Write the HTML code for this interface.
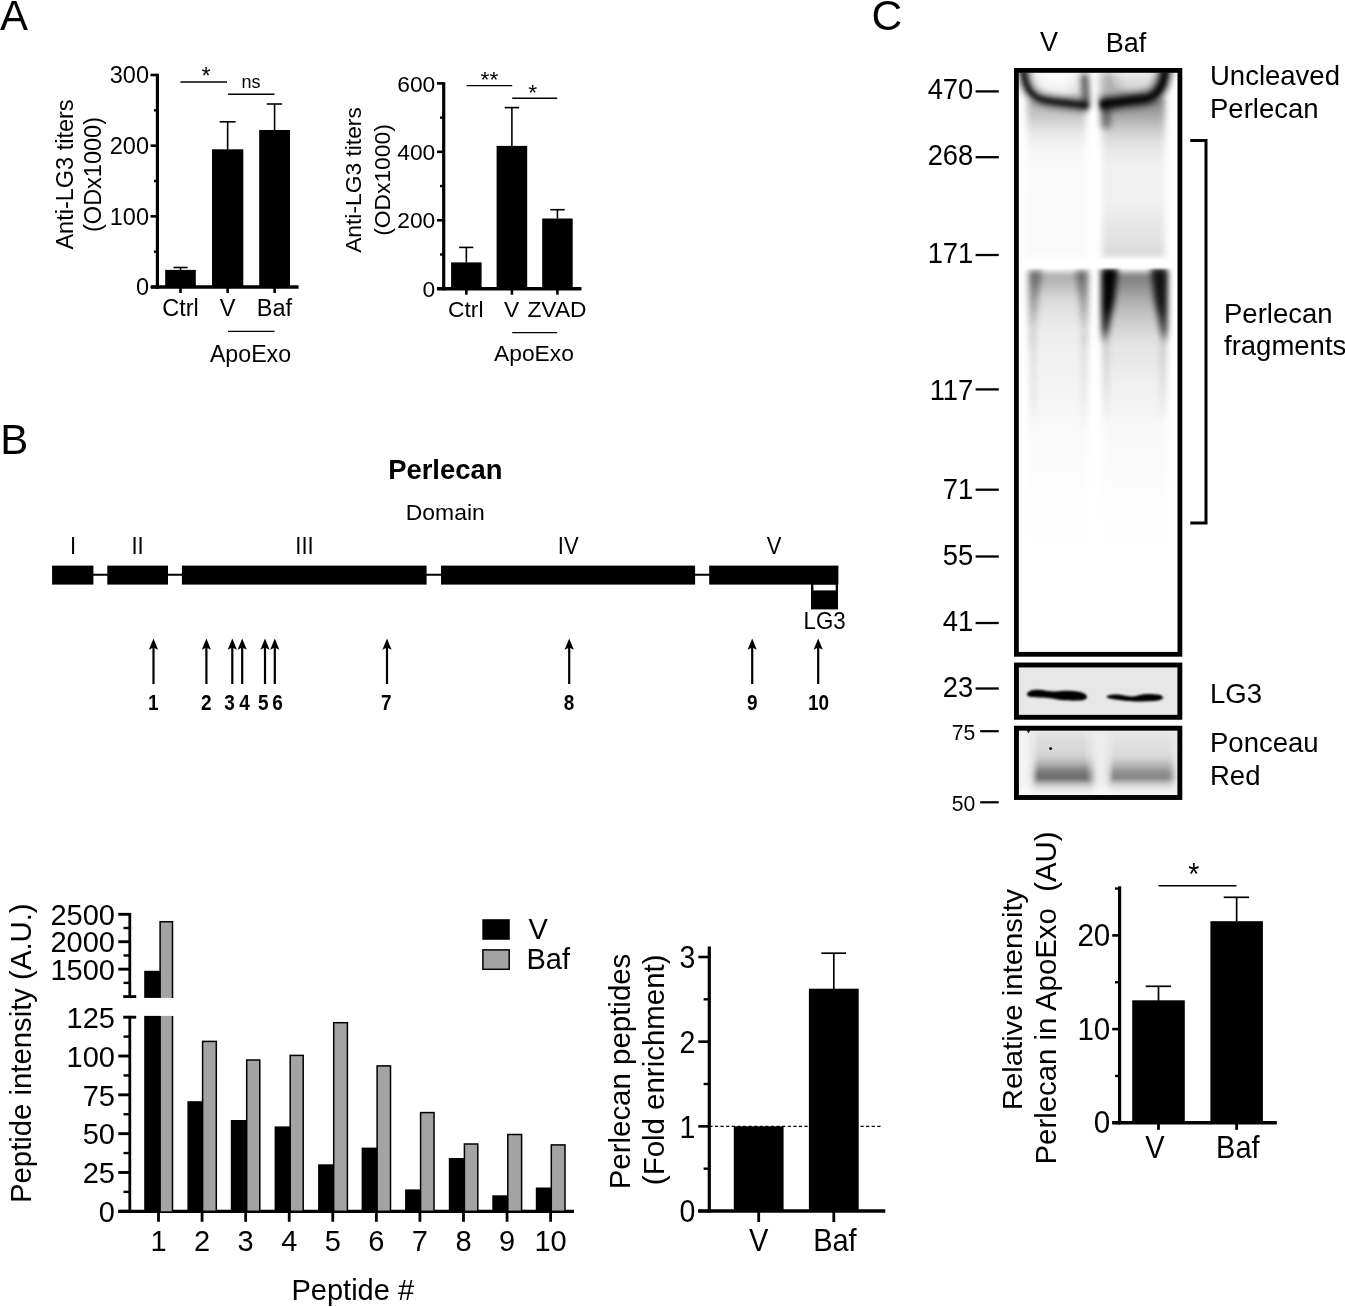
<!DOCTYPE html>
<html lang="en"><head><meta charset="utf-8"><title>Figure</title>
<style>html,body{margin:0;padding:0;background:#fff;}svg{display:block;}text{font-family:'Liberation Sans', Arial, sans-serif;fill:#000;}</style>
</head><body>
<svg width="1345" height="1307" viewBox="0 0 1345 1307">
<rect x="0" y="0" width="1345" height="1307" fill="#fff"/>
<defs>
<filter id="b1" x="-20%" y="-50%" width="140%" height="200%"><feGaussianBlur stdDeviation="1"/></filter>
<filter id="b2" x="-20%" y="-20%" width="140%" height="140%"><feGaussianBlur stdDeviation="2"/></filter>
<filter id="b3" x="-30%" y="-30%" width="160%" height="160%"><feGaussianBlur stdDeviation="3"/></filter>
<filter id="b4" x="-30%" y="-30%" width="160%" height="160%"><feGaussianBlur stdDeviation="4.5"/></filter>
<clipPath id="cpMain"><rect x="1018.5" y="72.5" width="159" height="580"/></clipPath>
<clipPath id="cpLG3"><rect x="1018.5" y="667" width="159" height="48.5"/></clipPath>
<clipPath id="cpPon"><rect x="1018.5" y="730" width="159" height="65.5"/></clipPath>
<linearGradient id="gSmearV" x1="0" y1="0" x2="0" y2="1">
 <stop offset="0" stop-color="#000" stop-opacity="0.42"/>
 <stop offset="0.35" stop-color="#000" stop-opacity="0.22"/>
 <stop offset="0.7" stop-color="#000" stop-opacity="0.06"/>
 <stop offset="1" stop-color="#000" stop-opacity="0.02"/>
</linearGradient>
<linearGradient id="gSmearB" x1="0" y1="0" x2="0" y2="1">
 <stop offset="0" stop-color="#000" stop-opacity="0.62"/>
 <stop offset="0.3" stop-color="#000" stop-opacity="0.34"/>
 <stop offset="0.65" stop-color="#000" stop-opacity="0.14"/>
 <stop offset="1" stop-color="#000" stop-opacity="0.10"/>
</linearGradient>
<linearGradient id="gHazeB" x1="0" y1="0" x2="0" y2="1">
 <stop offset="0" stop-color="#000" stop-opacity="0.10"/>
 <stop offset="0.8" stop-color="#000" stop-opacity="0.13"/>
 <stop offset="1" stop-color="#000" stop-opacity="0.20"/>
</linearGradient>
<linearGradient id="gHazeV" x1="0" y1="0" x2="0" y2="1">
 <stop offset="0" stop-color="#000" stop-opacity="0.02"/>
 <stop offset="1" stop-color="#000" stop-opacity="0.05"/>
</linearGradient>
<linearGradient id="gLowV" x1="0" y1="0" x2="0" y2="1">
 <stop offset="0" stop-color="#000" stop-opacity="0.34"/>
 <stop offset="0.05" stop-color="#000" stop-opacity="0.25"/>
 <stop offset="0.1" stop-color="#000" stop-opacity="0.14"/>
 <stop offset="0.2" stop-color="#000" stop-opacity="0.075"/>
 <stop offset="0.35" stop-color="#000" stop-opacity="0.05"/>
 <stop offset="0.55" stop-color="#000" stop-opacity="0.025"/>
 <stop offset="0.8" stop-color="#000" stop-opacity="0.008"/>
 <stop offset="1" stop-color="#000" stop-opacity="0"/>
</linearGradient>
<linearGradient id="gLowB" x1="0" y1="0" x2="0" y2="1">
 <stop offset="0" stop-color="#000" stop-opacity="0.52"/>
 <stop offset="0.05" stop-color="#000" stop-opacity="0.44"/>
 <stop offset="0.1" stop-color="#000" stop-opacity="0.32"/>
 <stop offset="0.17" stop-color="#000" stop-opacity="0.21"/>
 <stop offset="0.25" stop-color="#000" stop-opacity="0.11"/>
 <stop offset="0.4" stop-color="#000" stop-opacity="0.06"/>
 <stop offset="0.55" stop-color="#000" stop-opacity="0.03"/>
 <stop offset="0.8" stop-color="#000" stop-opacity="0.01"/>
 <stop offset="1" stop-color="#000" stop-opacity="0"/>
</linearGradient>
<linearGradient id="gEdgeV" x1="0" y1="0" x2="0" y2="1">
 <stop offset="0" stop-color="#000" stop-opacity="0.42"/>
 <stop offset="0.4" stop-color="#000" stop-opacity="0.3"/>
 <stop offset="0.75" stop-color="#000" stop-opacity="0.13"/>
 <stop offset="1" stop-color="#000" stop-opacity="0.0"/>
</linearGradient>
<linearGradient id="gEdgeB" x1="0" y1="0" x2="0" y2="1">
 <stop offset="0" stop-color="#000" stop-opacity="1"/>
 <stop offset="0.2" stop-color="#000" stop-opacity="0.95"/>
 <stop offset="0.36" stop-color="#000" stop-opacity="0.75"/>
 <stop offset="0.45" stop-color="#000" stop-opacity="0.25"/>
 <stop offset="0.7" stop-color="#000" stop-opacity="0.10"/>
 <stop offset="1" stop-color="#000" stop-opacity="0.03"/>
</linearGradient>
<linearGradient id="gPonV" x1="0" y1="0" x2="0" y2="1">
 <stop offset="0" stop-color="#000" stop-opacity="0.04"/>
 <stop offset="0.35" stop-color="#000" stop-opacity="0.08"/>
 <stop offset="0.5" stop-color="#000" stop-opacity="0.26"/>
 <stop offset="0.62" stop-color="#000" stop-opacity="0.5"/>
 <stop offset="0.72" stop-color="#000" stop-opacity="0.56"/>
 <stop offset="0.82" stop-color="#000" stop-opacity="0.3"/>
 <stop offset="0.92" stop-color="#000" stop-opacity="0.06"/>
 <stop offset="1" stop-color="#000" stop-opacity="0"/>
</linearGradient>
<linearGradient id="gPonB" x1="0" y1="0" x2="0" y2="1">
 <stop offset="0" stop-color="#000" stop-opacity="0.02"/>
 <stop offset="0.35" stop-color="#000" stop-opacity="0.05"/>
 <stop offset="0.5" stop-color="#000" stop-opacity="0.2"/>
 <stop offset="0.62" stop-color="#000" stop-opacity="0.4"/>
 <stop offset="0.72" stop-color="#000" stop-opacity="0.44"/>
 <stop offset="0.82" stop-color="#000" stop-opacity="0.22"/>
 <stop offset="0.92" stop-color="#000" stop-opacity="0.04"/>
 <stop offset="1" stop-color="#000" stop-opacity="0"/>
</linearGradient>
<linearGradient id="gUpV" x1="0" y1="0" x2="0" y2="1">
 <stop offset="0" stop-color="#000" stop-opacity="0.3"/>
 <stop offset="0.1" stop-color="#000" stop-opacity="0.22"/>
 <stop offset="0.2" stop-color="#000" stop-opacity="0.1"/>
 <stop offset="0.3" stop-color="#000" stop-opacity="0.04"/>
 <stop offset="0.45" stop-color="#000" stop-opacity="0.02"/>
 <stop offset="1" stop-color="#000" stop-opacity="0.025"/>
</linearGradient>
<linearGradient id="gUpB" x1="0" y1="0" x2="0" y2="1">
 <stop offset="0" stop-color="#000" stop-opacity="0.48"/>
 <stop offset="0.1" stop-color="#000" stop-opacity="0.36"/>
 <stop offset="0.2" stop-color="#000" stop-opacity="0.2"/>
 <stop offset="0.3" stop-color="#000" stop-opacity="0.1"/>
 <stop offset="0.42" stop-color="#000" stop-opacity="0.06"/>
 <stop offset="0.65" stop-color="#000" stop-opacity="0.06"/>
 <stop offset="0.92" stop-color="#000" stop-opacity="0.12"/>
 <stop offset="1" stop-color="#000" stop-opacity="0.16"/>
</linearGradient>
<linearGradient id="gStreak" x1="0" y1="0" x2="0" y2="1">
 <stop offset="0" stop-color="#000" stop-opacity="0.18"/>
 <stop offset="0.6" stop-color="#000" stop-opacity="0.1"/>
 <stop offset="1" stop-color="#000" stop-opacity="0"/>
</linearGradient>
<linearGradient id="gWedgeB" x1="0" y1="0" x2="0" y2="1">
 <stop offset="0" stop-color="#000" stop-opacity="1"/>
 <stop offset="0.55" stop-color="#000" stop-opacity="1"/>
 <stop offset="0.8" stop-color="#000" stop-opacity="0.8"/>
 <stop offset="1" stop-color="#000" stop-opacity="0.15"/>
</linearGradient>
</defs>
<text x="0" y="30" font-size="42" text-anchor="start">A</text>
<line x1="157.4" y1="73.8" x2="157.4" y2="288.7" stroke="#000" stroke-width="3.2"/>
<line x1="151" y1="287.0" x2="298.5" y2="287.0" stroke="#000" stroke-width="3.5"/>
<line x1="150.5" y1="287.0" x2="157.4" y2="287.0" stroke="#000" stroke-width="2.6"/>
<text x="149" y="295.3" font-size="23.5" text-anchor="end">0</text>
<line x1="150.5" y1="216.33333333333331" x2="157.4" y2="216.33333333333331" stroke="#000" stroke-width="2.6"/>
<text x="149" y="224.63333333333333" font-size="23.5" text-anchor="end">100</text>
<line x1="150.5" y1="145.66666666666666" x2="157.4" y2="145.66666666666666" stroke="#000" stroke-width="2.6"/>
<text x="149" y="153.96666666666667" font-size="23.5" text-anchor="end">200</text>
<line x1="150.5" y1="75.0" x2="157.4" y2="75.0" stroke="#000" stroke-width="2.6"/>
<text x="149" y="83.3" font-size="23.5" text-anchor="end">300</text>
<line x1="154" y1="251.66666666666666" x2="157.4" y2="251.66666666666666" stroke="#000" stroke-width="2.4"/>
<line x1="154" y1="181.0" x2="157.4" y2="181.0" stroke="#000" stroke-width="2.4"/>
<line x1="154" y1="110.33333333333334" x2="157.4" y2="110.33333333333334" stroke="#000" stroke-width="2.4"/>
<rect x="165.20" y="269.90" width="30.60" height="17.10" fill="#000"/>
<line x1="180.5" y1="267.5" x2="180.5" y2="269.9" stroke="#000" stroke-width="1.6"/>
<line x1="173.5" y1="267.5" x2="187.6" y2="267.5" stroke="#000" stroke-width="1.6"/>
<line x1="180.5" y1="287.0" x2="180.5" y2="293.0" stroke="#000" stroke-width="2.6"/>
<rect x="212.00" y="149.30" width="31.30" height="137.70" fill="#000"/>
<line x1="227.65" y1="121.8" x2="227.65" y2="149.3" stroke="#000" stroke-width="1.6"/>
<line x1="219.7" y1="121.8" x2="235.6" y2="121.8" stroke="#000" stroke-width="1.6"/>
<line x1="227.65" y1="287.0" x2="227.65" y2="293.0" stroke="#000" stroke-width="2.6"/>
<rect x="259.20" y="130.00" width="30.80" height="157.00" fill="#000"/>
<line x1="274.6" y1="104" x2="274.6" y2="130" stroke="#000" stroke-width="1.6"/>
<line x1="266.8" y1="104" x2="282.1" y2="104" stroke="#000" stroke-width="1.6"/>
<line x1="274.6" y1="287.0" x2="274.6" y2="293.0" stroke="#000" stroke-width="2.6"/>
<text x="180.5" y="316.1" font-size="23.5" text-anchor="middle">Ctrl</text>
<text x="227.5" y="316.1" font-size="23.5" text-anchor="middle">V</text>
<text x="274.5" y="316.1" font-size="23.5" text-anchor="middle">Baf</text>
<line x1="228" y1="331.4" x2="274.5" y2="331.4" stroke="#000" stroke-width="1.4"/>
<text x="250.5" y="361.6" font-size="23.2" text-anchor="middle">ApoExo</text>
<line x1="180.5" y1="82" x2="227" y2="82" stroke="#000" stroke-width="1.4"/>
<text x="206" y="84.3" font-size="23.5" text-anchor="middle">*</text>
<line x1="228" y1="94.2" x2="274.5" y2="94.2" stroke="#000" stroke-width="1.4"/>
<text x="251" y="88" font-size="18" text-anchor="middle">ns</text>
<text x="73" y="174.5" font-size="23.5" text-anchor="middle" transform="rotate(-90 73 174.5)">Anti-LG3 titers</text>
<text x="101.3" y="174.5" font-size="23.5" text-anchor="middle" transform="rotate(-90 101.3 174.5)">(ODx1000)</text>
<line x1="443.7" y1="82.2" x2="443.7" y2="290.4" stroke="#000" stroke-width="3.2"/>
<line x1="437" y1="288.7" x2="581.5" y2="288.7" stroke="#000" stroke-width="3.5"/>
<line x1="437" y1="288.7" x2="443.7" y2="288.7" stroke="#000" stroke-width="2.6"/>
<text x="435.3" y="296.8" font-size="22.8" text-anchor="end">0</text>
<line x1="437" y1="220.26666666666665" x2="443.7" y2="220.26666666666665" stroke="#000" stroke-width="2.6"/>
<text x="435.3" y="228.36666666666665" font-size="22.8" text-anchor="end">200</text>
<line x1="437" y1="151.83333333333331" x2="443.7" y2="151.83333333333331" stroke="#000" stroke-width="2.6"/>
<text x="435.3" y="159.9333333333333" font-size="22.8" text-anchor="end">400</text>
<line x1="437" y1="83.4" x2="443.7" y2="83.4" stroke="#000" stroke-width="2.6"/>
<text x="435.3" y="91.5" font-size="22.8" text-anchor="end">600</text>
<line x1="440" y1="254.48333333333332" x2="443.7" y2="254.48333333333332" stroke="#000" stroke-width="2.4"/>
<line x1="440" y1="186.05" x2="443.7" y2="186.05" stroke="#000" stroke-width="2.4"/>
<line x1="440" y1="117.61666666666667" x2="443.7" y2="117.61666666666667" stroke="#000" stroke-width="2.4"/>
<rect x="451.10" y="262.40" width="30.50" height="26.30" fill="#000"/>
<line x1="466.35" y1="247.4" x2="466.35" y2="262.4" stroke="#000" stroke-width="1.6"/>
<line x1="459.1" y1="247.4" x2="473.3" y2="247.4" stroke="#000" stroke-width="1.6"/>
<line x1="466.35" y1="288.7" x2="466.35" y2="294.7" stroke="#000" stroke-width="2.6"/>
<rect x="496.60" y="145.90" width="30.60" height="142.80" fill="#000"/>
<line x1="511.90000000000003" y1="107.6" x2="511.90000000000003" y2="145.9" stroke="#000" stroke-width="1.6"/>
<line x1="504.7" y1="107.6" x2="519.1" y2="107.6" stroke="#000" stroke-width="1.6"/>
<line x1="511.90000000000003" y1="288.7" x2="511.90000000000003" y2="294.7" stroke="#000" stroke-width="2.6"/>
<rect x="542.20" y="218.50" width="30.50" height="70.20" fill="#000"/>
<line x1="557.45" y1="209.7" x2="557.45" y2="218.5" stroke="#000" stroke-width="1.6"/>
<line x1="550.2" y1="209.7" x2="564.7" y2="209.7" stroke="#000" stroke-width="1.6"/>
<line x1="557.45" y1="288.7" x2="557.45" y2="294.7" stroke="#000" stroke-width="2.6"/>
<text x="465.8" y="317.3" font-size="22.8" text-anchor="middle">Ctrl</text>
<text x="511.6" y="317.3" font-size="22.8" text-anchor="middle">V</text>
<text x="557" y="317.3" font-size="22.8" text-anchor="middle">ZVAD</text>
<line x1="512.2" y1="332.6" x2="557.2" y2="332.6" stroke="#000" stroke-width="1.4"/>
<text x="534" y="360.7" font-size="22.8" text-anchor="middle">ApoExo</text>
<line x1="466.6" y1="85.6" x2="512.2" y2="85.6" stroke="#000" stroke-width="1.4"/>
<text x="489.4" y="87" font-size="22.8" text-anchor="middle">**</text>
<line x1="512.2" y1="98.2" x2="557.2" y2="98.2" stroke="#000" stroke-width="1.4"/>
<text x="532.8" y="100" font-size="22.8" text-anchor="middle">*</text>
<text x="361" y="180" font-size="22.8" text-anchor="middle" transform="rotate(-90 361 180)">Anti-LG3 titers</text>
<text x="389.5" y="180" font-size="22.8" text-anchor="middle" transform="rotate(-90 389.5 180)">(ODx1000)</text>
<text x="0.3" y="454.2" font-size="42" text-anchor="start">B</text>
<text x="445.3" y="478.5" font-size="27.4" text-anchor="middle" font-weight="bold">Perlecan</text>
<text x="445.3" y="519.5" font-size="22.9" text-anchor="middle">Domain</text>
<line x1="52.5" y1="574.7" x2="838" y2="574.7" stroke="#000" stroke-width="2.1"/>
<rect x="52.10" y="565.60" width="41.30" height="19.00" fill="#000"/>
<rect x="107.30" y="565.60" width="60.70" height="19.00" fill="#000"/>
<rect x="181.90" y="565.60" width="244.70" height="19.00" fill="#000"/>
<rect x="441.00" y="565.60" width="254.10" height="19.00" fill="#000"/>
<rect x="709.20" y="565.60" width="129.20" height="19.00" fill="#000"/>
<rect x="811.00" y="584.10" width="27.00" height="25.30" fill="#000"/>
<rect x="813.40" y="584.80" width="22.30" height="5.60" fill="#fff"/>
<text x="0" y="0" font-size="22.3" text-anchor="middle" transform="translate(824.6 629.4) scale(1 1.05)">LG3</text>
<text x="0" y="0" font-size="22" text-anchor="middle" transform="translate(73 553.9) scale(1 1.09)">I</text>
<text x="0" y="0" font-size="22" text-anchor="middle" transform="translate(137.5 553.9) scale(1 1.09)">II</text>
<text x="0" y="0" font-size="22" text-anchor="middle" transform="translate(304.5 553.9) scale(1 1.09)">III</text>
<text x="0" y="0" font-size="22" text-anchor="middle" transform="translate(568.2 553.9) scale(1 1.09)">IV</text>
<text x="0" y="0" font-size="22" text-anchor="middle" transform="translate(774 553.9) scale(1 1.09)">V</text>
<line x1="153.5" y1="684" x2="153.5" y2="646" stroke="#000" stroke-width="2.2"/>
<path d="M153.5 638.5 L158.1 649.8 L153.5 647.5 L148.9 649.8 Z" fill="#000"/>
<text x="0" y="0" font-size="19" text-anchor="middle" font-weight="bold" transform="translate(153.3 710.0) scale(1 1.12)">1</text>
<line x1="206.4" y1="684" x2="206.4" y2="646" stroke="#000" stroke-width="2.2"/>
<path d="M206.4 638.5 L211.0 649.8 L206.4 647.5 L201.8 649.8 Z" fill="#000"/>
<text x="0" y="0" font-size="19" text-anchor="middle" font-weight="bold" transform="translate(206.3 710.0) scale(1 1.12)">2</text>
<line x1="232.3" y1="684" x2="232.3" y2="646" stroke="#000" stroke-width="2.2"/>
<path d="M232.3 638.5 L236.9 649.8 L232.3 647.5 L227.70000000000002 649.8 Z" fill="#000"/>
<text x="0" y="0" font-size="19" text-anchor="middle" font-weight="bold" transform="translate(229.5 710.0) scale(1 1.12)">3</text>
<line x1="242.2" y1="684" x2="242.2" y2="646" stroke="#000" stroke-width="2.2"/>
<path d="M242.2 638.5 L246.79999999999998 649.8 L242.2 647.5 L237.6 649.8 Z" fill="#000"/>
<text x="0" y="0" font-size="19" text-anchor="middle" font-weight="bold" transform="translate(244.5 710.0) scale(1 1.12)">4</text>
<line x1="265" y1="684" x2="265" y2="646" stroke="#000" stroke-width="2.2"/>
<path d="M265 638.5 L269.6 649.8 L265 647.5 L260.4 649.8 Z" fill="#000"/>
<text x="0" y="0" font-size="19" text-anchor="middle" font-weight="bold" transform="translate(263.2 710.0) scale(1 1.12)">5</text>
<line x1="274.8" y1="684" x2="274.8" y2="646" stroke="#000" stroke-width="2.2"/>
<path d="M274.8 638.5 L279.40000000000003 649.8 L274.8 647.5 L270.2 649.8 Z" fill="#000"/>
<text x="0" y="0" font-size="19" text-anchor="middle" font-weight="bold" transform="translate(277.5 710.0) scale(1 1.12)">6</text>
<line x1="387" y1="684" x2="387" y2="646" stroke="#000" stroke-width="2.2"/>
<path d="M387 638.5 L391.6 649.8 L387 647.5 L382.4 649.8 Z" fill="#000"/>
<text x="0" y="0" font-size="19" text-anchor="middle" font-weight="bold" transform="translate(386.4 710.0) scale(1 1.12)">7</text>
<line x1="569.2" y1="684" x2="569.2" y2="646" stroke="#000" stroke-width="2.2"/>
<path d="M569.2 638.5 L573.8000000000001 649.8 L569.2 647.5 L564.6 649.8 Z" fill="#000"/>
<text x="0" y="0" font-size="19" text-anchor="middle" font-weight="bold" transform="translate(569 710.0) scale(1 1.12)">8</text>
<line x1="752.2" y1="684" x2="752.2" y2="646" stroke="#000" stroke-width="2.2"/>
<path d="M752.2 638.5 L756.8000000000001 649.8 L752.2 647.5 L747.6 649.8 Z" fill="#000"/>
<text x="0" y="0" font-size="19" text-anchor="middle" font-weight="bold" transform="translate(752.3 710.0) scale(1 1.12)">9</text>
<line x1="818.2" y1="684" x2="818.2" y2="646" stroke="#000" stroke-width="2.2"/>
<path d="M818.2 638.5 L822.8000000000001 649.8 L818.2 647.5 L813.6 649.8 Z" fill="#000"/>
<text x="0" y="0" font-size="19" text-anchor="middle" font-weight="bold" transform="translate(818.5 710.0) scale(1 1.12)">10</text>
<line x1="129.8" y1="913.0" x2="129.8" y2="997.9" stroke="#000" stroke-width="2.8"/>
<line x1="129.8" y1="1015.9000000000001" x2="129.8" y2="1212.8999999999999" stroke="#000" stroke-width="2.8"/>
<line x1="118.3" y1="1211.3" x2="574" y2="1211.3" stroke="#000" stroke-width="3.3"/>
<line x1="118.3" y1="914.3" x2="129.8" y2="914.3" stroke="#000" stroke-width="2.9"/>
<text x="115" y="924.9" font-size="29" text-anchor="end">2500</text>
<line x1="118.3" y1="941.7333333333333" x2="129.8" y2="941.7333333333333" stroke="#000" stroke-width="2.9"/>
<text x="115" y="952.3333333333334" font-size="29" text-anchor="end">2000</text>
<line x1="118.3" y1="969.1666666666666" x2="129.8" y2="969.1666666666666" stroke="#000" stroke-width="2.9"/>
<text x="115" y="979.7666666666667" font-size="29" text-anchor="end">1500</text>
<line x1="123.2" y1="996.6" x2="136.2" y2="996.6" stroke="#000" stroke-width="2.9"/>
<line x1="123.5" y1="928.0166666666667" x2="129.8" y2="928.0166666666667" stroke="#000" stroke-width="2.4"/>
<line x1="123.5" y1="955.45" x2="129.8" y2="955.45" stroke="#000" stroke-width="2.4"/>
<line x1="123.5" y1="982.8833333333333" x2="129.8" y2="982.8833333333333" stroke="#000" stroke-width="2.4"/>
<line x1="123.2" y1="1017.2" x2="136.2" y2="1017.2" stroke="#000" stroke-width="2.9"/>
<text x="115" y="1027.9" font-size="29" text-anchor="end">125</text>
<line x1="118.3" y1="1056.02" x2="129.8" y2="1056.02" stroke="#000" stroke-width="2.9"/>
<text x="115" y="1066.72" font-size="29" text-anchor="end">100</text>
<line x1="118.3" y1="1094.84" x2="129.8" y2="1094.84" stroke="#000" stroke-width="2.9"/>
<text x="115" y="1105.54" font-size="29" text-anchor="end">75</text>
<line x1="118.3" y1="1133.66" x2="129.8" y2="1133.66" stroke="#000" stroke-width="2.9"/>
<text x="115" y="1144.3600000000001" font-size="29" text-anchor="end">50</text>
<line x1="118.3" y1="1172.48" x2="129.8" y2="1172.48" stroke="#000" stroke-width="2.9"/>
<text x="115" y="1183.18" font-size="29" text-anchor="end">25</text>
<line x1="118.3" y1="1211.3" x2="129.8" y2="1211.3" stroke="#000" stroke-width="2.9"/>
<text x="115" y="1222.0" font-size="29" text-anchor="end">0</text>
<line x1="123.5" y1="1036.6100000000001" x2="129.8" y2="1036.6100000000001" stroke="#000" stroke-width="2.4"/>
<line x1="123.5" y1="1075.43" x2="129.8" y2="1075.43" stroke="#000" stroke-width="2.4"/>
<line x1="123.5" y1="1114.25" x2="129.8" y2="1114.25" stroke="#000" stroke-width="2.4"/>
<line x1="123.5" y1="1153.07" x2="129.8" y2="1153.07" stroke="#000" stroke-width="2.4"/>
<line x1="123.5" y1="1191.8899999999999" x2="129.8" y2="1191.8899999999999" stroke="#000" stroke-width="2.4"/>
<rect x="144.20" y="970.80" width="16.40" height="27.10" fill="#000"/>
<rect x="144.20" y="1015.90" width="16.40" height="195.40" fill="#000"/>
<rect x="160.10" y="921.7" width="12.40" height="76.20" fill="#a3a3a3"/>
<path d="M160.10 997.90 V921.7 H172.50 V997.90" fill="none" stroke="#000" stroke-width="1.5"/>
<rect x="160.10" y="1015.90" width="12.40" height="195.40" fill="#a3a3a3"/>
<path d="M160.10 1015.90 V1211.30 M172.50 1015.90 V1211.30" fill="none" stroke="#000" stroke-width="1.5"/>
<line x1="158.5" y1="1211.3" x2="158.5" y2="1221.8" stroke="#000" stroke-width="2.8"/>
<text x="158.5" y="1251" font-size="29" text-anchor="middle">1</text>
<rect x="187.40" y="1101.20" width="15.70" height="110.10" fill="#000"/>
<rect x="202.60" y="1041.40" width="13.70" height="169.90" fill="#a3a3a3" stroke="#000" stroke-width="1.5"/>
<line x1="202.07" y1="1211.3" x2="202.07" y2="1221.8" stroke="#000" stroke-width="2.8"/>
<text x="202.07" y="1251" font-size="29" text-anchor="middle">2</text>
<rect x="230.80" y="1120.00" width="16.40" height="91.30" fill="#000"/>
<rect x="246.70" y="1060.00" width="13.10" height="151.30" fill="#a3a3a3" stroke="#000" stroke-width="1.5"/>
<line x1="245.64" y1="1211.3" x2="245.64" y2="1221.8" stroke="#000" stroke-width="2.8"/>
<text x="245.64" y="1251" font-size="29" text-anchor="middle">3</text>
<rect x="274.60" y="1126.40" width="16.10" height="84.90" fill="#000"/>
<rect x="290.20" y="1055.40" width="13.00" height="155.90" fill="#a3a3a3" stroke="#000" stroke-width="1.5"/>
<line x1="289.21000000000004" y1="1211.3" x2="289.21000000000004" y2="1221.8" stroke="#000" stroke-width="2.8"/>
<text x="289.21000000000004" y="1251" font-size="29" text-anchor="middle">4</text>
<rect x="318.10" y="1164.30" width="16.10" height="47.00" fill="#000"/>
<rect x="333.70" y="1022.70" width="13.70" height="188.60" fill="#a3a3a3" stroke="#000" stroke-width="1.5"/>
<line x1="332.78" y1="1211.3" x2="332.78" y2="1221.8" stroke="#000" stroke-width="2.8"/>
<text x="332.78" y="1251" font-size="29" text-anchor="middle">5</text>
<rect x="361.60" y="1147.60" width="16.00" height="63.70" fill="#000"/>
<rect x="377.10" y="1065.90" width="13.40" height="145.40" fill="#a3a3a3" stroke="#000" stroke-width="1.5"/>
<line x1="376.35" y1="1211.3" x2="376.35" y2="1221.8" stroke="#000" stroke-width="2.8"/>
<text x="376.35" y="1251" font-size="29" text-anchor="middle">6</text>
<rect x="405.10" y="1189.40" width="16.00" height="21.90" fill="#000"/>
<rect x="420.60" y="1112.60" width="13.40" height="98.70" fill="#a3a3a3" stroke="#000" stroke-width="1.5"/>
<line x1="419.92" y1="1211.3" x2="419.92" y2="1221.8" stroke="#000" stroke-width="2.8"/>
<text x="419.92" y="1251" font-size="29" text-anchor="middle">7</text>
<rect x="448.80" y="1158.00" width="16.10" height="53.30" fill="#000"/>
<rect x="464.40" y="1144.00" width="13.40" height="67.30" fill="#a3a3a3" stroke="#000" stroke-width="1.5"/>
<line x1="463.49" y1="1211.3" x2="463.49" y2="1221.8" stroke="#000" stroke-width="2.8"/>
<text x="463.49" y="1251" font-size="29" text-anchor="middle">8</text>
<rect x="492.30" y="1195.30" width="16.00" height="16.00" fill="#000"/>
<rect x="507.80" y="1134.50" width="13.80" height="76.80" fill="#a3a3a3" stroke="#000" stroke-width="1.5"/>
<line x1="507.06" y1="1211.3" x2="507.06" y2="1221.8" stroke="#000" stroke-width="2.8"/>
<text x="507.06" y="1251" font-size="29" text-anchor="middle">9</text>
<rect x="535.80" y="1187.50" width="16.00" height="23.80" fill="#000"/>
<rect x="551.30" y="1144.90" width="13.70" height="66.40" fill="#a3a3a3" stroke="#000" stroke-width="1.5"/>
<line x1="550.63" y1="1211.3" x2="550.63" y2="1221.8" stroke="#000" stroke-width="2.8"/>
<text x="550.63" y="1251" font-size="29" text-anchor="middle">10</text>
<text x="352.8" y="1300.3" font-size="29" text-anchor="middle">Peptide #</text>
<text x="31.2" y="1053.2" font-size="29.3" text-anchor="middle" transform="rotate(-90 31.2 1053.2)">Peptide intensity (A.U.)</text>
<rect x="482.30" y="919.20" width="27.50" height="20.60" fill="#000"/>
<rect x="482.9" y="949.9" width="26.3" height="19.4" fill="#a3a3a3" stroke="#000" stroke-width="1.5"/>
<text x="528.5" y="939" font-size="29" text-anchor="start">V</text>
<text x="526.5" y="969" font-size="29" text-anchor="start">Baf</text>
<line x1="709.3" y1="946.5" x2="709.3" y2="1212.5" stroke="#000" stroke-width="3.2"/>
<line x1="698.3" y1="1211.0" x2="885.3" y2="1211.0" stroke="#000" stroke-width="3.4"/>
<line x1="698.3" y1="1211.0" x2="709.3" y2="1211.0" stroke="#000" stroke-width="2.6"/>
<text x="0" y="0" font-size="28.5" text-anchor="end" transform="translate(695.3 1222.2) scale(1 1.1)">0</text>
<line x1="698.3" y1="1126.3333333333333" x2="709.3" y2="1126.3333333333333" stroke="#000" stroke-width="2.6"/>
<text x="0" y="0" font-size="28.5" text-anchor="end" transform="translate(695.3 1137.5333333333333) scale(1 1.1)">1</text>
<line x1="698.3" y1="1041.6666666666667" x2="709.3" y2="1041.6666666666667" stroke="#000" stroke-width="2.6"/>
<text x="0" y="0" font-size="28.5" text-anchor="end" transform="translate(695.3 1052.8666666666668) scale(1 1.1)">2</text>
<line x1="698.3" y1="957.0" x2="709.3" y2="957.0" stroke="#000" stroke-width="2.6"/>
<text x="0" y="0" font-size="28.5" text-anchor="end" transform="translate(695.3 968.2) scale(1 1.1)">3</text>
<line x1="703.6" y1="1168.6666666666667" x2="709.3" y2="1168.6666666666667" stroke="#000" stroke-width="2.4"/>
<line x1="703.6" y1="1084.0" x2="709.3" y2="1084.0" stroke="#000" stroke-width="2.4"/>
<line x1="703.6" y1="999.3333333333334" x2="709.3" y2="999.3333333333334" stroke="#000" stroke-width="2.4"/>
<rect x="733.80" y="1126.33" width="49.80" height="84.67" fill="#000"/>
<rect x="808.90" y="988.70" width="49.80" height="222.30" fill="#000"/>
<line x1="833.8" y1="953.2" x2="833.8" y2="989" stroke="#000" stroke-width="1.7"/>
<line x1="821.3" y1="953.2" x2="846" y2="953.2" stroke="#000" stroke-width="1.7"/>
<line x1="709.3" y1="1126.3333333333333" x2="881.5" y2="1126.3333333333333" stroke="#000" stroke-width="1.4" stroke-dasharray="3.2 2.4"/>
<line x1="758.7" y1="1211.0" x2="758.7" y2="1222.0" stroke="#000" stroke-width="2.8"/>
<line x1="833.8" y1="1211.0" x2="833.8" y2="1222.0" stroke="#000" stroke-width="2.8"/>
<text x="0" y="0" font-size="29" text-anchor="middle" transform="translate(758.6 1250.8) scale(1 1.08)">V</text>
<text x="0" y="0" font-size="29" text-anchor="middle" transform="translate(834.9 1250.8) scale(1 1.08)">Baf</text>
<text x="0" y="0" font-size="28.6" text-anchor="middle" transform="translate(629.5 1071.5) rotate(-90) scale(1.03 1)">Perlecan peptides</text>
<text x="0" y="0" font-size="28.6" text-anchor="middle" transform="translate(664 1069.8) rotate(-90) scale(1.03 1)">(Fold enrichment)</text>
<text x="871.6" y="29.8" font-size="42.5" text-anchor="start">C</text>
<text x="1049" y="51.3" font-size="27" text-anchor="middle">V</text>
<text x="1126" y="52.3" font-size="27" text-anchor="middle">Baf</text>
<text x="0" y="0" font-size="27.3" text-anchor="end" transform="translate(973.2 98.9) scale(1 1.05)">470</text>
<line x1="975.6" y1="91.4" x2="998.8" y2="91.4" stroke="#000" stroke-width="2.3"/>
<text x="0" y="0" font-size="27.3" text-anchor="end" transform="translate(973.2 164.6) scale(1 1.05)">268</text>
<line x1="975.6" y1="157.2" x2="998.8" y2="157.2" stroke="#000" stroke-width="2.3"/>
<text x="0" y="0" font-size="27.3" text-anchor="end" transform="translate(973.2 263.3) scale(1 1.05)">171</text>
<line x1="975.6" y1="255.0" x2="998.8" y2="255.0" stroke="#000" stroke-width="2.3"/>
<text x="0" y="0" font-size="27.3" text-anchor="end" transform="translate(973.2 400) scale(1 1.05)">117</text>
<line x1="975.6" y1="389.4" x2="998.8" y2="389.4" stroke="#000" stroke-width="2.3"/>
<text x="0" y="0" font-size="27.3" text-anchor="end" transform="translate(973.2 499.3) scale(1 1.05)">71</text>
<line x1="975.6" y1="489.7" x2="998.8" y2="489.7" stroke="#000" stroke-width="2.3"/>
<text x="0" y="0" font-size="27.3" text-anchor="end" transform="translate(973.2 564.8) scale(1 1.05)">55</text>
<line x1="975.6" y1="556.5" x2="998.8" y2="556.5" stroke="#000" stroke-width="2.3"/>
<text x="0" y="0" font-size="27.3" text-anchor="end" transform="translate(973.2 631) scale(1 1.05)">41</text>
<line x1="975.6" y1="623" x2="998.8" y2="623" stroke="#000" stroke-width="2.3"/>
<text x="0" y="0" font-size="27.3" text-anchor="end" transform="translate(973.2 697.1) scale(1 1.05)">23</text>
<line x1="975.6" y1="688.5" x2="998.8" y2="688.5" stroke="#000" stroke-width="2.3"/>
<text x="0" y="0" font-size="21.2" text-anchor="end" transform="translate(975.2 740.1) scale(1 1.04)">75</text>
<line x1="980.2" y1="731.2" x2="998.8" y2="731.2" stroke="#000" stroke-width="2.2"/>
<text x="0" y="0" font-size="21.2" text-anchor="end" transform="translate(975.2 811.3) scale(1 1.04)">50</text>
<line x1="980.2" y1="802.3" x2="998.8" y2="802.3" stroke="#000" stroke-width="2.2"/>
<text x="1210" y="85" font-size="27.5" text-anchor="start">Uncleaved</text>
<text x="1210" y="117.6" font-size="27.5" text-anchor="start">Perlecan</text>
<text x="1224" y="322.6" font-size="27.5" text-anchor="start">Perlecan</text>
<text x="1224" y="354.9" font-size="27.5" text-anchor="start">fragments</text>
<text x="1210" y="702.7" font-size="27.5" text-anchor="start">LG3</text>
<text x="1210" y="752" font-size="27.5" text-anchor="start">Ponceau</text>
<text x="1210" y="785.4" font-size="27.5" text-anchor="start">Red</text>
<path d="M1190.3 140.5 H1206 V523 H1190.3" fill="none" stroke="#000" stroke-width="3"/>
<g clip-path="url(#cpMain)">
<rect x="1018.00" y="72.00" width="160.00" height="581.00" fill="#fff"/>
<g filter="url(#b3)">
<rect x="1027" y="100" width="59" height="157" fill="url(#gUpV)"/>
<rect x="1102" y="98" width="63" height="159" fill="url(#gUpB)"/>
<rect x="1100.5" y="102" width="10" height="26" fill="#000" opacity="0.40"/>
</g>
<g filter="url(#b4)">
<path d="M1024 72 L1088 72 L1088 104 L1040 100 L1028 88 Z" fill="#000" opacity="0.16"/>
<path d="M1100 72 L1166 72 L1162 90 L1148 100 L1100 104 Z" fill="#000" opacity="0.30"/>
<ellipse cx="1056" cy="78" rx="17" ry="11" fill="#fff" opacity="0.85"/>
<ellipse cx="1136" cy="76" rx="16" ry="9" fill="#fff" opacity="0.6"/>
</g>
<g fill="none" stroke="#000" stroke-linecap="butt">
<g filter="url(#b3)">
<path d="M1023 66 C1024 86 1030 97 1044 100 C1058 102.5 1072 104 1087 105.5" stroke-width="13" opacity="0.45"/>
<path d="M1100.5 105 C1112 102.5 1130 100.5 1146 98.5 C1158 96 1164.5 86 1165.5 66" stroke-width="15" opacity="0.55"/>
<path d="M1084.5 74 C1085.5 90 1086 100 1086.5 109" stroke-width="6" opacity="0.7"/>
</g>
<g filter="url(#b2)">
<path d="M1023 66 C1024 86 1030 97 1044 100 C1058 102.5 1072 104 1087.5 105.5" stroke-width="5" opacity="0.85"/>
<path d="M1100.5 105 C1112 102.5 1130 100.5 1146 98.5 C1158 96 1164.5 86 1165.5 66" stroke-width="6.5" opacity="0.92"/>
</g>
</g>
<g filter="url(#b3)">
<rect x="1030" y="272" width="57" height="280" fill="url(#gLowV)"/>
<rect x="1103" y="272" width="63" height="280" fill="url(#gLowB)"/>
</g>
<g filter="url(#b3)">
<path d="M1028.5 270 L1042 270 L1038 300 L1033.5 350 L1028.5 350 Z" fill="url(#gEdgeV)"/>
<path d="M1088.5 270 L1075.5 270 L1079.5 300 L1083.5 350 L1088.5 350 Z" fill="url(#gEdgeV)"/>
<path d="M1101.5 268 L1118 268 L1114.5 300 L1110 322 L1107 342 L1101.5 342 Z" fill="url(#gWedgeB)"/>
<path d="M1167.5 268 L1151 268 L1154.5 300 L1159 322 L1162 342 L1167.5 342 Z" fill="url(#gWedgeB)" opacity="0.88"/>
<rect x="1103" y="325" width="5" height="100" fill="url(#gStreak)"/>
<rect x="1161" y="325" width="5" height="100" fill="url(#gStreak)"/>
<rect x="1030" y="335" width="5" height="100" fill="url(#gStreak)" opacity="0.7"/>
<rect x="1082" y="335" width="5" height="100" fill="url(#gStreak)" opacity="0.7"/>
</g>
<rect x="1018" y="259.5" width="160" height="9" fill="#fff" filter="url(#b1)"/>
</g>
<rect x="1016.4" y="70.4" width="163.5" height="583.9" fill="none" stroke="#000" stroke-width="4.8"/>
<g clip-path="url(#cpLG3)">
<rect x="1018.00" y="666.00" width="160.00" height="50.00" fill="#e7e7e7"/>
<g filter="url(#b1)" fill="#000">
<path d="M1027 694.2 C1027.5 691 1033 689.6 1038 689.8 C1044 690 1049 691.6 1054.5 691.5 C1060 691.2 1064 690.6 1069 690.8 C1075 691 1080 691.6 1083 693 C1086 694.4 1087.6 696 1086.8 697.8 C1085.8 699.8 1082 700.6 1078 700.6 C1072 700.8 1068 700.6 1064 700.3 C1059 699.8 1056 698.8 1052 698.4 C1047 697.8 1044 697.6 1040 697.4 C1035 697.2 1031 697 1029 696.4 C1027.6 695.9 1026.9 695.2 1027 694.2 Z"/>
<path d="M1106.8 696.4 C1107.6 694.8 1113 694.4 1118 694.5 C1123 694.8 1128 696.6 1132 696.6 C1136 696.4 1141 694.4 1146 694 C1151 693.8 1155 694 1158 694.6 C1161 695.2 1163.6 696.6 1163 698.2 C1162.2 699.8 1157 700.8 1153 701 C1148 701.4 1144 701.4 1139 701.4 C1134 701.4 1131 701.2 1127.5 700.9 C1123 700.5 1119 700 1115 699.5 C1111 699 1108 698.4 1107 697.6 C1106.6 697.2 1106.6 696.8 1106.8 696.4 Z"/>
</g>
</g>
<rect x="1016.45" y="665" width="163.4" height="52.3" fill="none" stroke="#000" stroke-width="4.9"/>
<g clip-path="url(#cpPon)">
<rect x="1018.00" y="729.00" width="160.00" height="68.00" fill="#e8e8e8"/>
<g filter="url(#b3)">
<rect x="1033" y="734" width="61" height="62" rx="8" fill="url(#gPonV)"/>
<rect x="1109" y="734" width="64" height="62" rx="8" fill="url(#gPonB)"/>
<rect x="1018" y="787" width="160" height="12" fill="#fff" opacity="0.6"/>
<rect x="1016" y="730" width="14" height="66" fill="#fff" opacity="0.5"/>
<rect x="1092" y="730" width="14" height="66" fill="#fff" opacity="0.25"/>
</g>
<circle cx="1050.6" cy="748.4" r="1.5" fill="#111"/>
<path d="M1026.5 730 L1030.5 730 L1028.5 733.5 Z" fill="#222"/>
</g>
<rect x="1016.45" y="728.2" width="163.4" height="69.3" fill="none" stroke="#000" stroke-width="4.9"/>
<line x1="1119.6" y1="886.3" x2="1119.6" y2="1124.3" stroke="#000" stroke-width="3.2"/>
<line x1="1112.3" y1="1122.8" x2="1276.8" y2="1122.8" stroke="#000" stroke-width="3.4"/>
<line x1="1112.2" y1="1122.8" x2="1119.6" y2="1122.8" stroke="#000" stroke-width="2.6"/>
<text x="0" y="0" font-size="29.6" text-anchor="end" transform="translate(1110.3 1133.2) scale(1 1.07)">0</text>
<line x1="1112.2" y1="1029.1" x2="1119.6" y2="1029.1" stroke="#000" stroke-width="2.6"/>
<text x="0" y="0" font-size="29.6" text-anchor="end" transform="translate(1110.3 1039.5) scale(1 1.07)">10</text>
<line x1="1112.2" y1="935.4" x2="1119.6" y2="935.4" stroke="#000" stroke-width="2.6"/>
<text x="0" y="0" font-size="29.6" text-anchor="end" transform="translate(1110.3 945.8) scale(1 1.07)">20</text>
<line x1="1115" y1="1075.95" x2="1119.6" y2="1075.95" stroke="#000" stroke-width="2.4"/>
<line x1="1115" y1="982.25" x2="1119.6" y2="982.25" stroke="#000" stroke-width="2.4"/>
<line x1="1115" y1="888.55" x2="1119.6" y2="888.55" stroke="#000" stroke-width="2.4"/>
<rect x="1132.20" y="1000.30" width="52.60" height="122.50" fill="#000"/>
<line x1="1158.5" y1="986.3" x2="1158.5" y2="1000.8" stroke="#000" stroke-width="1.7"/>
<line x1="1145.7" y1="986.3" x2="1171" y2="986.3" stroke="#000" stroke-width="1.7"/>
<line x1="1158.5" y1="1122.8" x2="1158.5" y2="1129.8" stroke="#000" stroke-width="2.8"/>
<rect x="1210.40" y="921.20" width="52.50" height="201.60" fill="#000"/>
<line x1="1236.65" y1="897.3" x2="1236.65" y2="921.7" stroke="#000" stroke-width="1.7"/>
<line x1="1223.7" y1="897.3" x2="1249" y2="897.3" stroke="#000" stroke-width="1.7"/>
<line x1="1236.65" y1="1122.8" x2="1236.65" y2="1129.8" stroke="#000" stroke-width="2.8"/>
<line x1="1158.5" y1="885.7" x2="1236.5" y2="885.7" stroke="#000" stroke-width="1.5"/>
<text x="0" y="0" font-size="28.5" text-anchor="middle" transform="translate(1193.7 885) scale(1 1.1)">*</text>
<text x="0" y="0" font-size="29" text-anchor="middle" transform="translate(1155 1158.3) scale(1 1.1)">V</text>
<text x="0" y="0" font-size="29" text-anchor="middle" transform="translate(1237.8 1158.3) scale(1 1.1)">Baf</text>
<text x="0" y="0" font-size="27.9" text-anchor="middle" transform="translate(1021.6 999.5) rotate(-90) scale(1.05 1)">Relative intensity</text>
<text x="0" y="0" font-size="28.8" text-anchor="middle" transform="translate(1055.6 998) rotate(-90) scale(1.02 1)" xml:space="preserve">Perlecan in ApoExo  (AU)</text>
</svg>
</body></html>
